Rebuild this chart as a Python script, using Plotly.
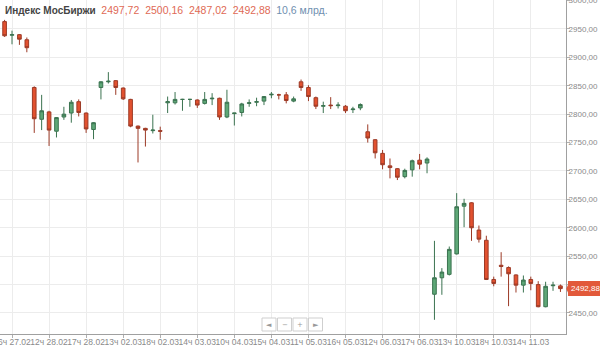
import plotly.graph_objects as go

# ---------------- data ----------------
opens = [2963, 2939, 2940, 2931, 2847, 2791, 2804, 2770, 2795, 2802,
         2822, 2802, 2773, 2847, 2857, 2859, 2846, 2826, 2779, 2775,
         2771, 2771, 2820, 2820, 2826, 2826, 2825, 2819, 2827, 2828,
         2795, 2801, 2803, 2819, 2821, 2823, 2834, 2834, 2834, 2823,
         2857, 2847, 2829, 2814, 2816, 2815, 2814, 2808, 2811, 2769,
         2755, 2731, 2709, 2704, 2690, 2702, 2719, 2714, 2483, 2512,
         2518, 2554, 2638, 2644, 2596, 2578, 2509, 2534, 2530, 2517,
         2499, 2509, 2500, 2461, 2498, 2497.72]
highs = [2966, 2947, 2941, 2935, 2849, 2834, 2806, 2795, 2813, 2825,
         2826, 2803, 2786, 2858, 2874, 2860, 2847, 2827, 2780, 2776,
         2799, 2778, 2831, 2839, 2827, 2827, 2826, 2839, 2837, 2829,
         2843, 2802, 2820, 2826, 2829, 2832, 2839, 2836, 2839, 2831,
         2861, 2851, 2831, 2822, 2830, 2821, 2816, 2813, 2819, 2782,
         2756, 2737, 2722, 2705, 2704, 2720, 2730, 2724, 2577, 2529,
         2567, 2661, 2651, 2645, 2604, 2586, 2514, 2557, 2532, 2518,
         2516, 2514, 2506, 2505, 2505, 2500.16]
lows = [2936, 2923, 2922, 2909, 2767, 2772, 2744, 2759, 2790, 2785,
        2796, 2767, 2756, 2826, 2854, 2834, 2825, 2777, 2715, 2743,
        2766, 2755, 2802, 2817, 2806, 2813, 2811, 2817, 2816, 2790,
        2793, 2780, 2796, 2813, 2814, 2816, 2828, 2826, 2819, 2821,
        2841, 2823, 2809, 2802, 2809, 2810, 2802, 2802, 2807, 2750,
        2722, 2703, 2687, 2684, 2687, 2690, 2703, 2696, 2438, 2482,
        2516, 2553, 2601, 2577, 2574, 2508, 2497, 2514, 2462, 2486,
        2486, 2490, 2460, 2460, 2489, 2487.02]
closes = [2938, 2940, 2932, 2917, 2792, 2806, 2772, 2794, 2800, 2821,
          2803, 2774, 2785, 2857, 2858, 2847, 2827, 2779, 2775, 2772,
          2772, 2770, 2822, 2826, 2826, 2826, 2816, 2826, 2828, 2795,
          2821, 2802, 2818, 2820, 2822, 2831, 2835, 2834, 2824, 2827,
          2847, 2831, 2814, 2815, 2815, 2816, 2806, 2809, 2817, 2758,
          2732, 2711, 2706, 2689, 2701, 2718, 2712, 2721, 2512, 2522,
          2562, 2637, 2643, 2600, 2580, 2509, 2502, 2532, 2519, 2499,
          2508, 2502, 2461, 2497, 2499, 2492.88]

tick_idx = [1, 6, 11, 16, 21, 26, 31, 36, 41, 46, 51, 56, 61, 66, 71]
tick_labels = ["16ч 27.02", "12ч 28.02", "17ч 28.02", "13ч 02.03", "18ч 02.03",
               "14ч 03.03", "10ч 04.03", "15ч 04.03", "11ч 05.03", "16ч 05.03",
               "12ч 06.03", "17ч 06.03", "13ч 10.03", "18ч 10.03", "14ч 11.03"]
y_ticks = [2450, 2500, 2550, 2600, 2650, 2700, 2750, 2800, 2850, 2900, 2950, 3000]
y_hidden = [2500]  # label covered by the last-price tag

title_name = "Индекс МосБиржи"
last_ohlc = ["2497,72", "2500,16", "2487,02", "2492,88"]
volume_text = "10,6 млрд."

x = list(range(len(opens)))
y_ticktext = ["" if v in y_hidden else f"{v:.2f}".replace(".", ",") for v in y_ticks]

# ---------------- figure ----------------
fig = go.Figure()
fig.add_trace(go.Candlestick(
    x=x, open=opens, high=highs, low=lows, close=closes,
    increasing=dict(fillcolor="#5ea877", line=dict(color="#3b7350", width=1)),
    decreasing=dict(fillcolor="#e2512f", line=dict(color="#9c3a26", width=1)),
    whiskerwidth=0, showlegend=False, hoverinfo="skip",
))

FONT = "Liberation Sans, Arial, sans-serif"
fig.update_layout(
    width=600, height=347,
    margin=dict(l=0, r=34, t=0, b=13, pad=0, autoexpand=False),
    paper_bgcolor="white", plot_bgcolor="white",
    font=dict(family=FONT, size=9, color="#888888"),
    xaxis=dict(
        range=[-0.62, 75.75], rangeslider=dict(visible=False),
        tickmode="array", tickvals=tick_idx, ticktext=tick_labels, tickangle=0,
        automargin=False, ticklabeloverflow="allow", ticklabelstandoff=-3,
        showgrid=True, gridcolor="#ececec", gridwidth=1,
        showline=True, linecolor="#a0a0a0", linewidth=1,
        ticks="outside", ticklen=3, tickcolor="#b0b0b0",
        tickfont=dict(size=8.5, color="#8a8a8a"), zeroline=False,
    ),
    yaxis=dict(
        side="right", range=[2413, 3001], automargin=False,
        ticklabeloverflow="allow", ticklabelstandoff=-3,
        tickmode="array", tickvals=y_ticks, ticktext=y_ticktext,
        showgrid=True, gridcolor="#ececec", gridwidth=1,
        showline=True, linecolor="#a0a0a0", linewidth=1,
        ticks="outside", ticklen=3, tickcolor="#b0b0b0",
        tickfont=dict(size=8, color="#8a8a8a"), zeroline=False,
    ),
)

# header
header = (f"<b>{title_name}</b>  "
          f"<span style='color:#e06a55;font-size:10.5px'>{'  '.join(last_ohlc)}</span>  "
          f"<span style='color:#6f8fb0;font-size:10.5px'>{volume_text}</span>")
fig.add_annotation(xref="paper", yref="paper", x=0.005, y=1.0, xanchor="left", yanchor="top",
                   yshift=-2, text=header, showarrow=False, align="left",
                   font=dict(family=FONT, size=10, color="#444444"))

# last price tag
fig.add_annotation(xref="paper", yref="y", x=1.0, y=closes[-1], xanchor="left", yanchor="middle",
                   xshift=2, text=last_ohlc[-1], showarrow=False,
                   bgcolor="#e2593a", bordercolor="#e2593a", borderpad=2,
                   font=dict(family=FONT, size=8, color="white"))
d = 7 / 0.568
fig.add_shape(type="path", xref="paper", yref="y",
              path=f"M 1.0005 {closes[-1]} L 1.0060 {closes[-1] + d} L 1.0060 {closes[-1] - d} Z",
              fillcolor="#e2593a", line=dict(width=0))

# navigation buttons
btn_glyphs = ["◄", "−", "+", "►"]
bx0 = 262
for i, g in enumerate(btn_glyphs):
    x0 = bx0 + i * 15.5
    fig.add_shape(type="rect", xref="paper", yref="paper",
                  x0=x0 / 566, x1=(x0 + 14) / 566,
                  y0=(334 - 331) / 334, y1=(334 - 318) / 334,
                  fillcolor="white", line=dict(color="#cfcfcf", width=1))
    fig.add_annotation(xref="paper", yref="paper", x=(x0 + 7) / 566, y=(334 - 324.5) / 334,
                       text=g, showarrow=False, xanchor="center", yanchor="middle",
                       font=dict(family="DejaVu Sans", size=7, color="#999999"))

fig.write_html("out.html")
